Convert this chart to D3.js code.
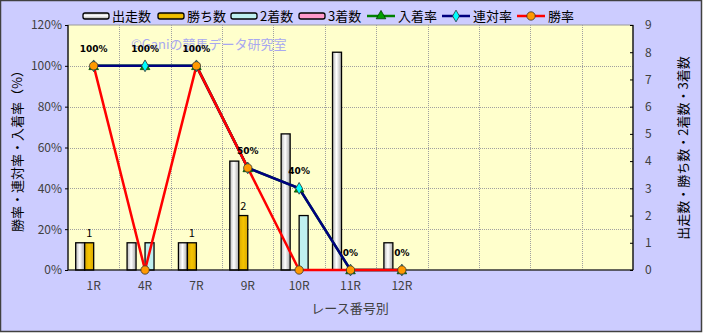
<!DOCTYPE html>
<html>
<head>
<meta charset="utf-8">
<script src="https://cdnjs.cloudflare.com/ajax/libs/d3/7.8.5/d3.min.js"></script>
<style>
  body { margin: 0; background: #fff; }
  svg text { font-family: "Noto Sans CJK JP", "Noto Sans", sans-serif; }
</style>
</head>
<body>
<div id="chart"></div>
<script>
// categories (11 slots on the axis, only 7 races have data)
const categories = ['1R', '4R', '7R', '9R', '10R', '11R', '12R'];
const slotCount = 11;

// counts (right axis)
const runs = [1, 1, 1, 4, 5, 8, 1];
const wins = [1, 0, 1, 2, 0, 0, 0];
const seconds = [0, 1, 0, 0, 2, 0, 0];
const thirds = [0, 0, 0, 0, 0, 0, 0];

// rates in % (left axis)
const placeRate = [100, 100, 100, 50, 40, 0, 0];
const rentaiRate = [100, 100, 100, 50, 40, 0, 0];
const winRate = [100, 0, 100, 50, 0, 0, 0];

const leftTicks = [0, 20, 40, 60, 80, 100, 120];
const rightTicks = [0, 1, 2, 3, 4, 5, 6, 7, 8, 9];

const W = 703, H = 333;
const plot = { left: 68, right: 633, top: 25, bottom: 270 };

const svg = d3.select('#chart').append('svg')
  .attr('width', W).attr('height', H);

const defs = svg.append('defs');
function grad(id, stops, vertical) {
  const g = defs.append('linearGradient').attr('id', id)
    .attr('x1', 0).attr('y1', 0)
    .attr('x2', vertical ? 0 : 1).attr('y2', vertical ? 1 : 0);
  stops.forEach(([o, c]) => g.append('stop').attr('offset', o).attr('stop-color', c));
}
grad('gWhite', [[0, '#b8b8b8'], [0.45, '#ffffff'], [1, '#a8a8a8']]);
grad('gWhiteV', [[0, '#b8b8b8'], [0.45, '#ffffff'], [1, '#a8a8a8']], true);
grad('gGold', [[0, '#d9a800'], [0.5, '#f5c400'], [1, '#d9a800']]);
grad('gGoldV', [[0, '#d9a800'], [0.5, '#f5c400'], [1, '#d9a800']], true);

// background
svg.append('rect').attr('x', 0.5).attr('y', 0.5).attr('width', W - 2).attr('height', H - 2)
  .attr('fill', '#ccccff').attr('stroke', '#404040').attr('stroke-width', 1.5);
svg.append('rect').attr('x', plot.left).attr('y', plot.top)
  .attr('width', plot.right - plot.left).attr('height', plot.bottom - plot.top)
  .attr('fill', '#ffffcc').attr('stroke', '#9a9a9a').attr('stroke-width', 1);

const x = d3.scaleBand().domain(d3.range(slotCount)).range([plot.left, plot.right]);
const bw = x.bandwidth();
const x1 = d3.scaleBand().domain([0, 1, 2, 3]).range([bw * 0.15, bw * 0.85]);
const yL = d3.scaleLinear().domain([0, 120]).range([plot.bottom, plot.top]);
const yR = d3.scaleLinear().domain([0, 9]).range([plot.bottom, plot.top]);
const cx = i => x(i) + bw / 2;

// grid
const grid = svg.append('g').attr('stroke', '#a0a0a0').attr('stroke-dasharray', '1,1')
  .attr('stroke-width', 1).attr('shape-rendering', 'crispEdges');
leftTicks.slice(1, -1).forEach(t => {
  grid.append('line').attr('x1', plot.left).attr('x2', plot.right)
    .attr('y1', Math.round(yL(t)) + 0.5).attr('y2', Math.round(yL(t)) + 0.5);
});
d3.range(1, slotCount).forEach(i => {
  grid.append('line').attr('x1', Math.round(x(i)) + 0.5).attr('x2', Math.round(x(i)) + 0.5)
    .attr('y1', plot.top).attr('y2', plot.bottom);
});

// watermark
svg.append('text').attr('x', 131).attr('y', 49)
  .attr('font-size', 13).attr('fill', '#a8a8f0')
  .text('©Ganiの競馬データ研究室');

// bars
const barSeries = [
  { name: '出走数', values: runs, fill: 'url(#gWhite)', legendFill: 'url(#gWhiteV)' },
  { name: '勝ち数', values: wins, fill: 'url(#gGold)', legendFill: 'url(#gGoldV)' },
  { name: '2着数', values: seconds, fill: '#bff0f0', legendFill: '#bff0f0' },
  { name: '3着数', values: thirds, fill: '#ff99cc', legendFill: '#ff99cc' }
];
barSeries.forEach((s, si) => {
  svg.append('g').selectAll('rect')
    .data(s.values.map((v, i) => ({ v, i })).filter(d => d.v > 0))
    .join('rect')
    .attr('x', d => x(d.i) + x1(si))
    .attr('width', x1.bandwidth())
    .attr('y', d => yR(d.v))
    .attr('height', d => plot.bottom - yR(d.v))
    .attr('fill', s.fill)
    .attr('stroke', '#000').attr('stroke-width', 1.3);
});
// labels on win bars
svg.append('g').selectAll('text')
  .data(wins.map((v, i) => ({ v, i })).filter(d => d.v > 0))
  .join('text')
  .attr('x', d => x(d.i) + x1(1) + x1.bandwidth() / 2)
  .attr('y', d => yR(d.v) - 6)
  .attr('text-anchor', 'middle').attr('font-size', 11).attr('fill', '#000')
  .text(d => d.v);

// axes
const axL = svg.append('g').attr('transform', `translate(${plot.left},0)`)
  .call(d3.axisLeft(yL).tickValues(leftTicks).tickSize(3).tickFormat(d => d + '%'));
const axR = svg.append('g').attr('transform', `translate(${plot.right},0)`)
  .call(d3.axisRight(yR).tickValues(rightTicks).tickSize(3).tickPadding(9));
const axB = svg.append('g').attr('transform', `translate(0,${plot.bottom})`)
  .call(d3.axisBottom(x).tickSize(0).tickPadding(9)
    .tickFormat(i => categories[i] || ''));
[axL, axR, axB].forEach(a => {
  a.select('.domain').attr('stroke', '#000').attr('stroke-width', 1.2);
  a.selectAll('.tick line').attr('stroke', '#000');
  a.selectAll('text').attr('font-size', 12).attr('fill', '#404040')
    .style('font-family', '"Noto Sans CJK JP", sans-serif');
});
axL.select('.domain').attr('d', `M0,${plot.top}V${plot.bottom}`);
axR.select('.domain').attr('d', `M0,${plot.top}V${plot.bottom}`);
axR.selectAll('.tick line').attr('x1', -3).attr('x2', 0);
axB.select('.domain').attr('d', `M${plot.left},0H${plot.right}`);
axB.selectAll('.tick text').attr('dy', '0.9em');

// axis titles
svg.append('text').attr('transform', 'translate(22,148) rotate(-90)')
  .attr('text-anchor', 'middle').attr('font-size', 13).attr('fill', '#000')
  .text('勝率・連対率・入着率（%）');
svg.append('text').attr('transform', 'translate(688,148) rotate(-90)')
  .attr('text-anchor', 'middle').attr('font-size', 13).attr('fill', '#000')
  .text('出走数・勝ち数・2着数・3着数');
svg.append('text').attr('x', 350).attr('y', 313)
  .attr('text-anchor', 'middle').attr('font-size', 13).attr('fill', '#404040')
  .text('レース番号別');

// lines
const lineSeries = [
  { name: '入着率', values: placeRate, color: '#008000', marker: 'triangle', mfill: '#00a000' },
  { name: '連対率', values: rentaiRate, color: '#000080', marker: 'diamond', mfill: '#00ffff' },
  { name: '勝率', values: winRate, color: '#ff0000', marker: 'circle', mfill: '#ff9900' }
];
const symbols = {
  triangle: d3.symbol().type(d3.symbolTriangle).size(40),
  diamond: d3.symbol().type(d3.symbolDiamond).size(40),
  circle: d3.symbol().type(d3.symbolCircle).size(55)
};
const line = d3.line().x((d, i) => cx(i)).y(d => yL(d));
lineSeries.forEach(s => {
  svg.append('path').datum(s.values).attr('d', line)
    .attr('fill', 'none').attr('stroke', s.color).attr('stroke-width', 2.5);
});
lineSeries.forEach(s => {
  svg.append('g').selectAll('path').data(s.values).join('path')
    .attr('transform', (d, i) => `translate(${cx(i)},${yL(d) + (s.marker === 'triangle' ? 1 : 0)})`)
    .attr('d', symbols[s.marker])
    .attr('fill', s.mfill).attr('stroke', s.marker === 'triangle' ? '#004000' : '#333').attr('stroke-width', 0.8);
});

// rate labels
svg.append('g').selectAll('text').data(placeRate).join('text')
  .attr('x', (d, i) => cx(i)).attr('y', d => yL(d) - 14)
  .attr('text-anchor', 'middle').attr('font-size', 9).attr('font-weight', 'bold')
  .attr('fill', '#000').style('font-family', '"DejaVu Sans", sans-serif')
  .text(d => d + '%');

// legend
const lg = svg.append('g').attr('font-size', 13).attr('fill', '#000');
const barLegendX = [83, 158, 231, 299];
barSeries.forEach((s, i) => {
  lg.append('rect').attr('x', barLegendX[i]).attr('y', 13).attr('width', 26).attr('height', 6)
    .attr('rx', 2).attr('fill', s.legendFill).attr('stroke', '#000').attr('stroke-width', 1.3);
  lg.append('text').attr('x', barLegendX[i] + 29).attr('y', 21).text(s.name);
});
const lineLegendX = [367, 442, 517];
lineSeries.forEach((s, i) => {
  const lx = lineLegendX[i];
  lg.append('line').attr('x1', lx).attr('x2', lx + 28).attr('y1', 16).attr('y2', 16)
    .attr('stroke', s.color).attr('stroke-width', 2.5);
  lg.append('path').attr('transform', `translate(${lx + 14},16)`)
    .attr('d', symbols[s.marker])
    .attr('fill', s.mfill).attr('stroke', s.marker === 'triangle' ? '#004000' : '#333').attr('stroke-width', 0.8);
  lg.append('text').attr('x', lx + 31).attr('y', 21).text(s.name);
});
</script>
</body>
</html>
